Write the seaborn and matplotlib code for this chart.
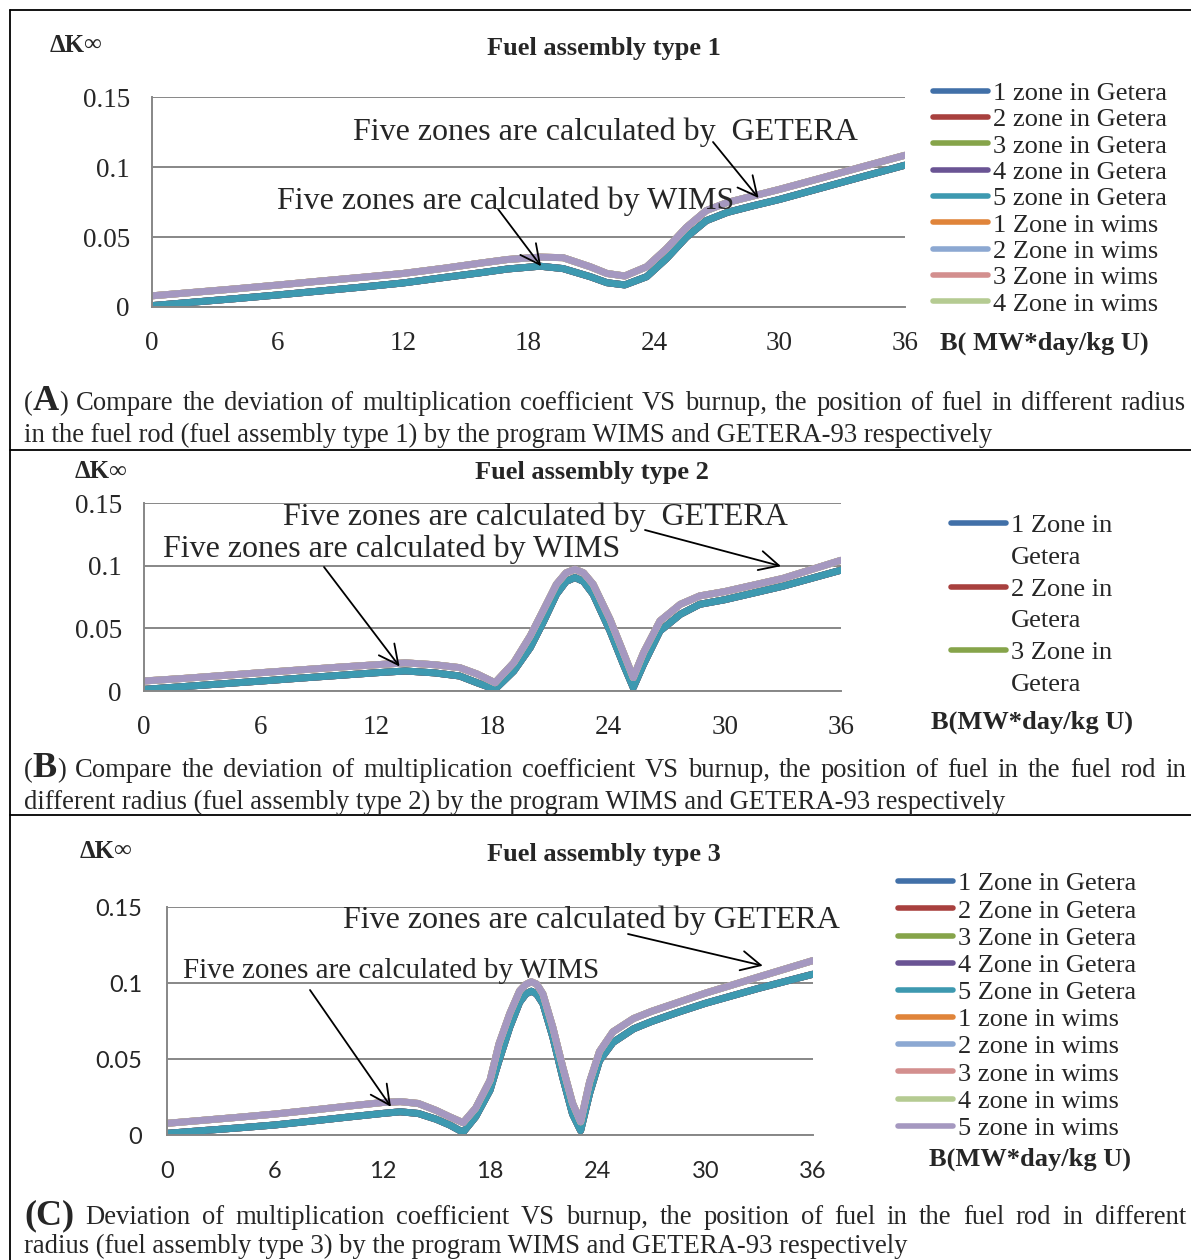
import matplotlib
matplotlib.use("Agg")
import matplotlib.pyplot as plt
from matplotlib.lines import Line2D
import pandas as pd
import seaborn as sns

W, H = 1191, 1260

# ---- data --------------------------------------------------------------
colors = ["#4170A8", "#A8403E", "#86A44A", "#6A5494", "#3D99B0",
          "#E0843A", "#8CA8D2", "#D38F8E", "#B5CB92", "#A598C0"]

xticks = [0, 6, 12, 18, 24, 30, 36]
yticks = [0, 0.05, 0.1, 0.15]
ytick_labels = ["0", "0.05", "0.1", "0.15"]

# fuel assembly type 1
burnup_a = [0, 2, 4, 6, 8, 10, 12, 14, 15.7, 17, 18.55, 19.65, 20.95, 21.75, 22.6,
            23.65, 24.6, 25.55, 26.5, 27.5, 28.75, 30, 32, 34, 36]
getera_a = [0.001, 0.0035, 0.006, 0.0086, 0.0114, 0.0142, 0.0172, 0.0212, 0.0245,
            0.0272, 0.0292, 0.0275, 0.0217, 0.0174, 0.0158, 0.0217, 0.0347, 0.050,
            0.0618, 0.0677, 0.0725, 0.077, 0.0852, 0.0934, 0.1015]
wims_a = [0.008, 0.0105, 0.013, 0.0157, 0.0185, 0.0212, 0.024, 0.0278, 0.0314,
          0.034, 0.0357, 0.0353, 0.0288, 0.024, 0.0222, 0.0288, 0.0418, 0.057,
          0.069, 0.0748, 0.0795, 0.0842, 0.0923, 0.1005, 0.1086]
names_a = ["1 zone in Getera", "2 zone in Getera", "3 zone in Getera",
           "4 zone in Getera", "5 zone in Getera", "1 Zone in wims",
           "2 Zone in wims", "3 Zone in wims", "4 Zone in wims", "5 Zone in wims"]

# fuel assembly type 2
burnup_b = [0, 2, 4, 6, 8, 10, 12, 13.5, 15, 16.3, 17.2, 18.13, 19.1, 19.95, 20.65,
            21.3, 21.8, 22.26, 22.7, 23.2, 24.07, 24.76, 25.27, 25.8, 26.65, 27.7,
            28.7, 30, 33, 36]
getera_b = [0.0013, 0.0035, 0.0057, 0.0079, 0.0102, 0.0124, 0.0146, 0.016, 0.0145,
            0.012, 0.0066, 0.0014, 0.016, 0.0347, 0.056, 0.0773, 0.0876, 0.0907,
            0.0876, 0.0773, 0.048, 0.0213, 0.0027, 0.0213, 0.048, 0.0613, 0.0693,
            0.073, 0.0838, 0.0966]
wims_b = [0.008, 0.010, 0.0123, 0.0146, 0.0168, 0.019, 0.021, 0.0225, 0.021,
          0.0187, 0.0136, 0.0066, 0.0227, 0.044, 0.0653, 0.0853, 0.0945, 0.0973,
          0.0945, 0.0853, 0.0573, 0.0307, 0.0107, 0.0307, 0.056, 0.0693, 0.076,
          0.0795, 0.090, 0.1045]
names_b = ["1 Zone in Getera", "2 Zone in Getera", "3 Zone in Getera",
           "4 Zone in Getera", "5 Zone in Getera", "1 Zone in wims",
           "2 Zone in wims", "3 Zone in wims", "4 Zone in wims", "5 Zone in wims"]

# fuel assembly type 3
burnup_c = [0, 2, 4, 6, 8, 10, 12, 13, 14, 15, 15.75, 16.5, 17.2, 18, 18.5, 19.1,
            19.65, 20.0, 20.3, 20.6, 20.95, 21.5, 22.05, 22.6, 23.05, 23.55, 24.1,
            24.85, 26, 27, 28.5, 30, 33, 36]
getera_c = [0.0011, 0.0029, 0.0047, 0.0066, 0.0091, 0.0117, 0.0142, 0.0153, 0.0142,
            0.0104, 0.0066, 0.0018, 0.012, 0.0295, 0.049, 0.071, 0.0875, 0.093,
            0.0948, 0.093, 0.0866, 0.0646, 0.038, 0.0138, 0.0029, 0.0274, 0.049,
            0.061, 0.070, 0.0748, 0.081, 0.0868, 0.0968, 0.106]
wims_c = [0.0077, 0.0097, 0.0117, 0.0138, 0.0163, 0.0189, 0.0214, 0.022, 0.0208,
          0.0162, 0.012, 0.0081, 0.0177, 0.036, 0.060, 0.080, 0.095, 0.0993,
          0.101, 0.0995, 0.093, 0.071, 0.045, 0.021, 0.0087, 0.035, 0.055, 0.068,
          0.0768, 0.0815, 0.0875, 0.0935, 0.1043, 0.115]
names_c = ["1 Zone in Getera", "2 Zone in Getera", "3 Zone in Getera",
           "4 Zone in Getera", "5 Zone in Getera", "1 zone in wims",
           "2 zone in wims", "3 zone in wims", "4 zone in wims", "5 zone in wims"]

captions = {
    "A": ["Compare the deviation of multiplication coefficient VS burnup, the position of fuel in different radius",
          "in the fuel rod (fuel assembly type 1) by the program WIMS and GETERA-93 respectively"],
    "B": ["Compare the deviation of multiplication coefficient VS burnup, the position of fuel in the fuel rod in",
          "different radius (fuel assembly type 2) by the program WIMS and GETERA-93 respectively"],
    "C": ["Deviation of multiplication coefficient VS burnup, the position of fuel in the fuel rod in different",
          "radius (fuel assembly type 3) by the program WIMS and GETERA-93 respectively"],
}

# ---- styling -------------------------------------------------------------
sns.set_style("white")
plt.rcParams["font.family"] = ["Liberation Serif", "DejaVu Serif"]
GRID = "#878787"

fig = plt.figure(figsize=(W / 100, H / 100), dpi=100)
renderer = fig.canvas.get_renderer()


def fx(x):
    return x / W


def fy(y):
    return 1 - y / H


def long_frame(burnup, getera, wims, names):
    parts = []
    for i, name in enumerate(names):
        vals = getera if i < 5 else wims
        parts.append(pd.DataFrame({"B": burnup, "dK": vals, "series": name}))
    return pd.concat(parts, ignore_index=True)


def make_panel(rect, burnup, getera, wims, names, tick_font, tick_size, ypad, xpad):
    l, r, t, b = rect
    ax = fig.add_axes([fx(l), fy(b), (r - l) / W, (b - t) / H])
    df = long_frame(burnup, getera, wims, names)
    sns.lineplot(data=df, x="B", y="dK", hue="series", hue_order=names,
                 palette=colors, lw=5, legend=False, errorbar=None, ax=ax)
    for ln in ax.lines:
        ln.set_solid_capstyle("round")
        ln.set_solid_joinstyle("round")
    ax.set_xlim(0, 36)
    ax.set_ylim(0, 0.1503)
    ax.set_xticks(xticks)
    ax.set_xticklabels([str(v) for v in xticks], fontfamily=tick_font, fontsize=tick_size)
    ax.set_yticks(yticks)
    ax.set_yticklabels(ytick_labels, fontfamily=tick_font, fontsize=tick_size)
    ax.set_xlabel("")
    ax.set_ylabel("")
    for s in ["top", "right"]:
        ax.spines[s].set_visible(False)
    for s in ["left", "bottom"]:
        ax.spines[s].set_color(GRID)
        ax.spines[s].set_linewidth(1.4)
    ax.yaxis.grid(True, color=GRID, lw=1.4)
    ax.xaxis.grid(False)
    ax.set_axisbelow(True)
    ax.tick_params(direction="out", length=6, width=1.4, color=GRID)
    ax.tick_params(axis="y", pad=ypad)
    ax.tick_params(axis="x", pad=xpad)
    ax.set_facecolor("none")
    return ax


def arrow(ax, start_px, tip):
    ax.annotate("", xy=tip, xycoords="data",
                xytext=(fx(start_px[0]), fy(start_px[1])), textcoords="figure fraction",
                arrowprops=dict(arrowstyle="->,head_length=0.7,head_width=0.35",
                                color="black", lw=1.3, shrinkA=0, shrinkB=0,
                                mutation_scale=20))


def add_legend(ax, handles, labels, x, y, size, spacing, hlen):
    leg = ax.legend(handles, labels, loc="upper left",
                    bbox_to_anchor=(fx(x), fy(y)), bbox_transform=fig.transFigure,
                    frameon=False, borderpad=0, borderaxespad=0,
                    handlelength=hlen, handletextpad=0.2,
                    labelspacing=spacing, prop={"family": "Liberation Serif", "size": size})
    return leg


def text_width(s, **kw):
    t = fig.text(0, 0, s, **kw)
    w = t.get_window_extent(renderer=renderer).width
    t.remove()
    return w


def caption(letter, base1, base2, paren_bold, size=19.2):
    line1, line2 = captions[letter]
    x0, x1 = 24, 1186
    s1 = size
    while True:
        reg = dict(fontsize=s1)
        big = dict(fontsize=26, fontweight="bold")
        if paren_bold:
            prefix = [("(" + letter + ")", big)]
        else:
            prefix = [("(", reg), (letter, big), (")", reg)]
        tokens = [prefix] + [[(w, reg)] for w in line1.split(" ")]
        widths = [sum(text_width(s, **kw) for s, kw in tok) for tok in tokens]
        gap = (x1 - x0 - sum(widths)) / (len(tokens) - 1)
        if gap >= 0.22 * s1 * 100 / 72 or s1 < 15:
            break
        s1 -= 0.2
    x = x0
    for tok, w in zip(tokens, widths):
        xx = x
        for s, kw in tok:
            fig.text(fx(xx), fy(base1), s, va="baseline", ha="left", **kw)
            xx += text_width(s, **kw)
        x += w + gap
    fig.text(fx(x0), fy(base2), line2, va="baseline", ha="left", fontsize=size)


def dk_label(x, y):
    t = fig.text(fx(x), fy(y), "\u0394K", fontsize=18, fontweight="bold", va="center")
    w = t.get_window_extent(renderer=renderer).width
    fig.text(fx(x + w - 2), fy(y), "\u221e", fontsize=18, va="center")


# ---- frame lines ---------------------------------------------------------
for yline in [10, 450, 815]:
    fig.add_artist(Line2D([fx(10), 1], [fy(yline), fy(yline)], color="black", lw=1.3))
fig.add_artist(Line2D([fx(10), fx(10)], [fy(10), 0], color="black", lw=1.3))

# ---- panel A -------------------------------------------------------------
ax_a = make_panel((152, 905, 97, 307), burnup_a, getera_a, wims_a, names_a,
                  "Liberation Serif", 19.5, 10, 11)
dk_label(50, 45)
fig.text(fx(604), fy(48), "Fuel assembly type 1", fontsize=19, fontweight="bold",
         ha="center", va="center")
fig.text(fx(353), fy(132), "Five zones are calculated by  GETERA", fontsize=23, va="center")
fig.text(fx(277), fy(201), "Five zones are calculated by WIMS", fontsize=23, va="center")
arrow(ax_a, (713, 142), (29.0, 0.078))
arrow(ax_a, (498, 209), (18.6, 0.0292))
fig.text(fx(940), fy(343), "B( MW*day/kg U)", fontsize=19, fontweight="bold", va="center")
h_a = [Line2D([], [], color=c, lw=4, solid_capstyle="round") for c in colors[:9]]
add_legend(ax_a, h_a, names_a[:9], 933, 81.5, 19, 0.108, 2.08)
caption("A", 410, 442, False)

# ---- panel B -------------------------------------------------------------
ax_b = make_panel((144, 841, 503, 691), burnup_b, getera_b, wims_b, names_b,
                  "Liberation Serif", 19.5, 10, 11)
dk_label(75, 472)
fig.text(fx(592), fy(472), "Fuel assembly type 2", fontsize=19, fontweight="bold",
         ha="center", va="center")
fig.text(fx(283), fy(517), "Five zones are calculated by  GETERA", fontsize=23, va="center")
fig.text(fx(163), fy(549), "Five zones are calculated by WIMS", fontsize=23, va="center")
arrow(ax_b, (645, 530), (32.9, 0.0998))
arrow(ax_b, (324, 567), (13.2, 0.0196))
fig.text(fx(931), fy(722), "B(MW*day/kg U)", fontsize=19, fontweight="bold", va="center")
h_b, l_b = [], []
for c, name in zip(colors[:3], names_b[:3]):
    first, second = name.rsplit(" ", 1)
    h_b += [Line2D([], [], color=c, lw=4, solid_capstyle="round"), Line2D([], [], color="none")]
    l_b += [first, second]
add_legend(ax_b, h_b, l_b, 951, 514, 19, 0.31, 2.08)
caption("B", 777, 809, False)

# ---- panel C -------------------------------------------------------------
ax_c = make_panel((167, 813, 907, 1135), burnup_c, getera_c, wims_c, names_c,
                  "Lato", 17, 12, 13)
dk_label(80, 851)
fig.text(fx(604), fy(855), "Fuel assembly type 3", fontsize=19, fontweight="bold",
         ha="center", va="center")
fig.text(fx(343), fy(920), "Five zones are calculated by GETERA", fontsize=23, va="center")
fig.text(fx(183), fy(971), "Five zones are calculated by WIMS", fontsize=21, va="center")
arrow(ax_c, (628, 934), (33.2, 0.1116))
arrow(ax_c, (310, 990), (12.48, 0.0186))
fig.text(fx(929), fy(1159), "B(MW*day/kg U)", fontsize=19, fontweight="bold", va="center")
h_c = [Line2D([], [], color=c, lw=4, solid_capstyle="round") for c in colors]
add_legend(ax_c, h_c, names_c, 898, 872, 19, 0.14, 2.08)
caption("C", 1224, 1253, True)

fig.savefig("out.png", dpi=100)
